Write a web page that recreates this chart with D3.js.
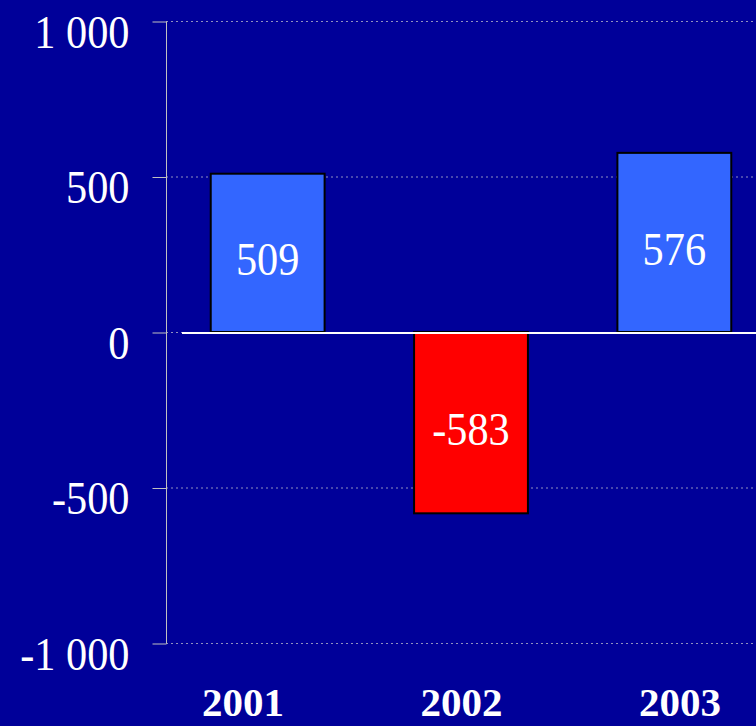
<!DOCTYPE html>
<html>
<head>
<meta charset="utf-8">
<script src="https://cdn.jsdelivr.net/npm/d3@7"></script>
<style>
  html, body { margin: 0; padding: 0; background: #000099; }
  svg { display: block; }
</style>
</head>
<body>
<div id="content"></div>
<script>
// chart data
const years = ["2001", "2002", "2003"];
const values = [509, -583, 576];
const yTicks = [-1000, -500, 0, 500, 1000];

const width = 756;
const height = 726;
const serif = "'Liberation Serif', 'Times New Roman', serif";

const svg = d3.select("#content")
  .append("svg")
  .attr("width", width)
  .attr("height", height)
  .style("background", "#000099");

// space as thousands separator, plain hyphen for minus
const locale = d3.formatLocale({decimal: ",", thousands: " ", grouping: [3], currency: ["", ""], minus: "-"});
const fmt = locale.format(",d");

const x = d3.scaleBand()
  .domain(years)
  .range([166, 776])
  .paddingInner(0.44)
  .paddingOuter(0.22);

// the year labels sit a bit off the bar centres in the original
const xLabel = d3.scalePoint()
  .domain(years)
  .range([243, 680]);

const y = d3.scaleLinear()
  .domain([-1000, 1000])
  .range([643, 21]);

// dotted gridlines
svg.append("g")
  .selectAll("line")
  .data(yTicks)
  .join("line")
    .attr("x1", 166)
    .attr("x2", width)
    .attr("y1", d => y(d) + 0.5)
    .attr("y2", d => y(d) + 0.5)
    .attr("stroke", "#9090c0")
    .attr("stroke-width", 1)
    .attr("stroke-dasharray", "2,3");

// y axis
const yAxis = svg.append("g")
  .attr("transform", "translate(166.5,0.5)")
  .call(d3.axisLeft(y).tickValues(yTicks).tickFormat(fmt).tickSize(14).tickPadding(23));
yAxis.select(".domain").attr("stroke", "#c0c0c0").attr("d", `M0,${y(1000)}V${y(-1000)}`);
yAxis.selectAll(".tick line").attr("stroke", "#c0c0c0");
yAxis.selectAll(".tick text")
  .attr("x", 0)
  .attr("transform", "translate(-37,0) scale(0.9,1)")
  .attr("fill", "#ffffff")
  .attr("font-family", serif)
  .attr("font-size", 47)
  .attr("dy", "0.55em");

// bars
svg.append("g")
  .selectAll("rect")
  .data(values)
  .join("rect")
    .attr("x", (d, i) => x(years[i]))
    .attr("width", x.bandwidth())
    .attr("y", d => y(Math.max(0, d)))
    .attr("height", d => Math.abs(y(d) - y(0)))
    .attr("fill", d => d < 0 ? "#ff0000" : "#3366ff")
    .attr("stroke", "#000000")
    .attr("stroke-width", 2);

// zero line
svg.append("line")
  .attr("x1", 182)
  .attr("x2", width)
  .attr("y1", y(0) + 1)
  .attr("y2", y(0) + 1)
  .attr("stroke", "#ffffff")
  .attr("stroke-width", 2);

// value labels inside bars
svg.append("g")
  .selectAll("text")
  .data(values)
  .join("text")
    .attr("transform", (d, i) => `translate(${x(years[i]) + x.bandwidth() / 2},${(y(d) + y(0)) / 2}) scale(0.9,1)`)
    .attr("dy", "0.48em")
    .attr("text-anchor", "middle")
    .attr("fill", "#ffffff")
    .attr("font-family", serif)
    .attr("font-size", 47)
    .text(d => fmt(d));

// category labels
svg.append("g")
  .selectAll("text")
  .data(years)
  .join("text")
    .attr("x", d => xLabel(d))
    .attr("y", 716)
    .attr("text-anchor", "middle")
    .attr("fill", "#ffffff")
    .attr("font-family", serif)
    .attr("font-weight", "bold")
    .attr("font-size", 41)
    .text(d => d);
</script>
</body>
</html>
